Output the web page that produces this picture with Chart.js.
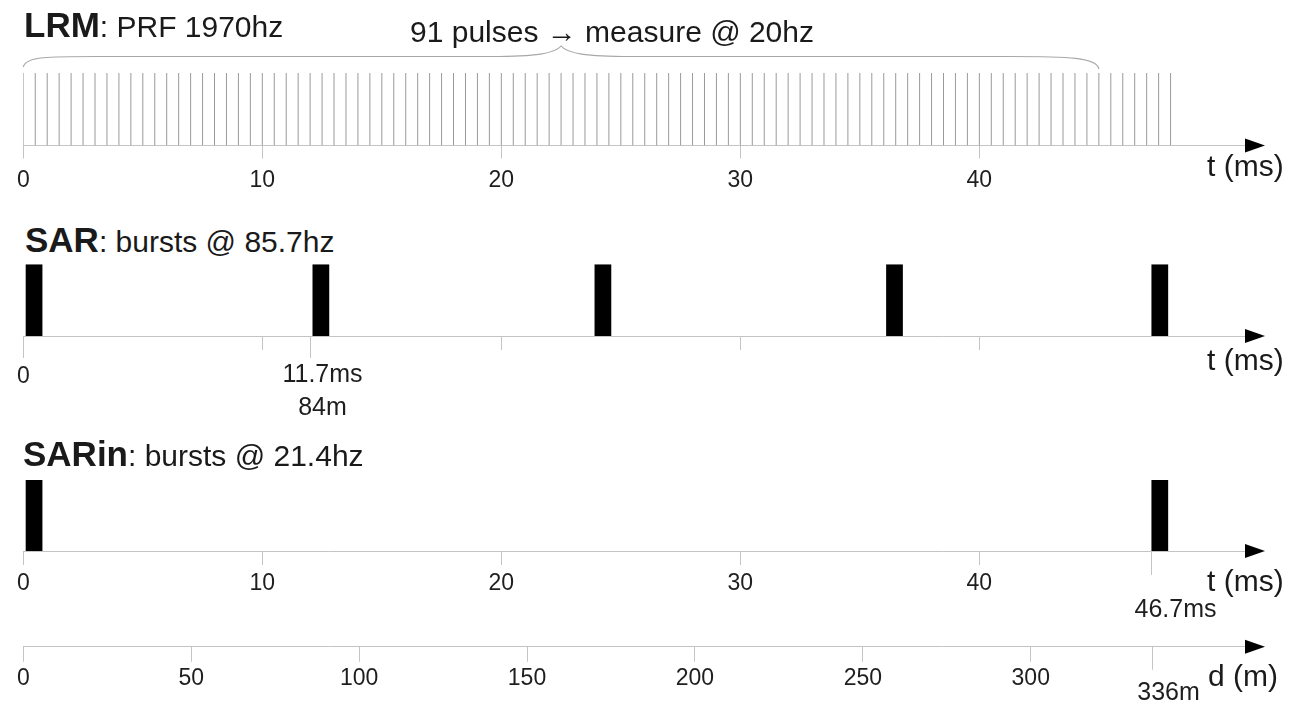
<!DOCTYPE html>
<html>
<head>
<meta charset="utf-8">
<title>CryoSat SIRAL modes</title>
<script src="https://cdn.jsdelivr.net/npm/chart.js@4.4.1/dist/chart.umd.min.js"></script>
<style>
  html, body { margin: 0; padding: 0; background: #fff; }
  body { position: relative; width: 1293px; height: 705px; overflow: hidden;
         font-family: "Liberation Sans", Arial, sans-serif; color: #1a1a1a; }
  canvas { position: absolute; left: 0; }
  .lbl { position: absolute; white-space: nowrap; line-height: 0; font-size: 30px; }
  .lbl b { font-size: 35px; }
</style>
</head>
<body>
<canvas id="lrm" width="1293" height="160" style="top:40px"></canvas>
<canvas id="sar" width="1293" height="170" style="top:260px"></canvas>
<canvas id="sarin" width="1293" height="160" style="top:470px"></canvas>
<canvas id="dist" width="1293" height="73" style="top:632px"></canvas>
<script>
// LRM pulse times (ms), one every ~0.5 ms
const lrmPulseTimes = [
  0, 0.5, 1, 1.5, 2, 2.5, 3, 3.5, 4, 4.5, 5, 5.5, 6, 6.5, 7, 7.5, 8, 8.5, 9, 9.5,
  10, 10.5, 11, 11.5, 12, 12.5, 13, 13.5, 14, 14.5, 15, 15.5, 16, 16.5, 17, 17.5, 18, 18.5, 19, 19.5,
  20, 20.5, 21, 21.5, 22, 22.5, 23, 23.5, 24, 24.5, 25, 25.5, 26, 26.5, 27, 27.5, 28, 28.5, 29, 29.5,
  30, 30.5, 31, 31.5, 32, 32.5, 33, 33.5, 34, 34.5, 35, 35.5, 36, 36.5, 37, 37.5, 38, 38.5, 39, 39.5,
  40, 40.5, 41, 41.5, 42, 42.5, 43, 43.5, 44, 44.5, 45, 45.5, 46, 46.5, 47, 47.5, 48
];
const lrmBraceSpan = [0, 45];          // the 91 pulses averaged into one measurement

// burst start times (ms) and burst length
const sarBurstStarts = [0.1, 12.1, 23.9, 36.1, 47.2];
const sarinBurstStarts = [0.1, 47.2];
const burstLength = 0.7;

// axes
const timeMax = 51.24;
const timeTicks = [0, 10, 20, 30, 40];
const timeTickLabels = ['0', '10', '20', '30', '40'];
const sarTickLabels = ['', '', '', '', ''];
const sarMarks = [0, 12.0];
const sarMarkLabels = [['0'], ['11.7ms', '84m']];
const sarinMarks = [47.2];
const sarinMarkLabels = [['46.7ms']];

const distMax = 364.7;
const distTicks = [0, 50, 100, 150, 200, 250, 300];
const distTickLabels = ['0', '50', '100', '150', '200', '250', '300'];
const distMarks = [336];
const distMarkLabels = [['336m']];

const GRAY = '#c4c4c4';
const FONT = '"Liberation Sans", Arial, sans-serif';

// black arrow head at the right end of the axis line
const arrowPlugin = {
  id: 'axisArrow',
  afterDraw(chart) {
    const ctx = chart.ctx, r = chart.chartArea.right, y = chart.scales.x.top;
    ctx.save();
    ctx.fillStyle = '#000';
    ctx.beginPath();
    ctx.moveTo(r - 3, y - 7);
    ctx.lineTo(r + 17, y);
    ctx.lineTo(r - 3, y + 7);
    ctx.closePath();
    ctx.fill();
    ctx.restore();
  }
};

// longer ticks with annotation text
function marksPlugin(cfg) {
  return {
    id: 'marks',
    afterDraw(chart) {
      const ctx = chart.ctx, sx = chart.scales.x, y0 = sx.top;
      ctx.save();
      cfg.values.forEach((v, i) => {
        const px = Math.round(sx.getPixelForValue(v)) + 0.5;
        ctx.strokeStyle = GRAY;
        ctx.lineWidth = 1;
        ctx.beginPath();
        ctx.moveTo(px, y0);
        ctx.lineTo(px, y0 + cfg.tickLength);
        ctx.stroke();
        ctx.fillStyle = '#1e1e1e';
        ctx.textAlign = 'center';
        ctx.textBaseline = 'alphabetic';
        ctx.font = cfg.fonts[i] + 'px ' + FONT;
        cfg.labels[i].forEach((line, k) => {
          ctx.fillText(line, px + cfg.dx[i], y0 + cfg.baselines[i] + k * cfg.lineGap);
        });
      });
      ctx.restore();
    }
  };
}

// curly brace over a span of the time axis
function bracePlugin(span) {
  return {
    id: 'brace',
    afterDraw(chart) {
      const ctx = chart.ctx, sx = chart.scales.x, top = chart.chartArea.top;
      const x0 = sx.getPixelForValue(span[0]), x1 = sx.getPixelForValue(span[1]);
      const xm = (x0 + x1) / 2;
      const yEnd = top - 6, yH = top - 16.5, yTip = top - 27;
      ctx.save();
      ctx.strokeStyle = '#a8a8a8';
      ctx.lineWidth = 1.2;
      ctx.beginPath();
      ctx.moveTo(x0, yEnd);
      ctx.bezierCurveTo(x0 + 2, yH - 1, x0 + 30, yH, x0 + 90, yH);
      ctx.lineTo(xm - 70, yH);
      ctx.bezierCurveTo(xm - 25, yH, xm - 6, yH - 3, xm, yTip);
      ctx.bezierCurveTo(xm + 6, yH - 3, xm + 25, yH, xm + 70, yH);
      ctx.lineTo(x1 - 90, yH);
      ctx.bezierCurveTo(x1 - 30, yH, x1 - 2, yH + 1, x1, yEnd + 2);
      ctx.stroke();
      ctx.restore();
    }
  };
}

function rowChart(id, row) {
  return new Chart(document.getElementById(id), {
    type: 'bar',
    data: {
      labels: [id],
      datasets: row.datasets
    },
    options: {
      indexAxis: 'y',
      responsive: false,
      animation: false,
      events: [],
      layout: { padding: { left: 23.3, right: 45, top: row.padTop, bottom: 0 } },
      plugins: { legend: { display: false }, tooltip: { enabled: false } },
      scales: {
        y: { display: false },
        x: {
          type: 'linear',
          min: 0,
          max: row.max,
          afterBuildTicks: s => { s.ticks = row.ticks.map(v => ({ value: v })); },
          afterFit: s => { s.height = row.axisHeight; },
          border: { color: GRAY, width: 1 },
          grid: { drawOnChartArea: false, drawTicks: true, tickLength: row.tickLength, tickColor: GRAY },
          ticks: {
            autoSkip: false,
            maxRotation: 0,
            padding: row.tickPadding,
            color: '#1e1e1e',
            font: { family: FONT, size: 23 },
            callback: (v, i) => row.tickLabels[i]
          }
        }
      }
    },
    plugins: [arrowPlugin].concat(row.plugins || [])
  });
}

function burstSet(starts, label) {
  return {
    data: starts.map(t => ({ y: label, x: [t, t + burstLength] })),
    backgroundColor: '#000',
    borderWidth: 0,
    categoryPercentage: 1,
    barPercentage: 1,
    inflateAmount: 0
  };
}

rowChart('lrm', {
  max: timeMax, padTop: 33, axisHeight: 54.5, tickLength: 13, tickPadding: 8.5,
  ticks: timeTicks, tickLabels: timeTickLabels,
  datasets: [{
    data: lrmPulseTimes.map(t => ({ y: 'lrm', x: [t - 0.021, t + 0.021] })),
    backgroundColor: '#9a9a9a',
    borderWidth: 0,
    categoryPercentage: 1,
    barPercentage: 1,
    inflateAmount: 0
  }],
  plugins: [bracePlugin(lrmBraceSpan)]
});

rowChart('sar', {
  max: timeMax, padTop: 4.3, axisHeight: 94, tickLength: 14, tickPadding: 4,
  ticks: timeTicks, tickLabels: sarTickLabels,
  datasets: [burstSet(sarBurstStarts, 'sar')],
  plugins: [marksPlugin({
    values: sarMarks, labels: sarMarkLabels, fonts: [23, 25],
    dx: [0, 12], baselines: [47, 46], lineGap: 33, tickLength: 22
  })]
});

rowChart('sarin', {
  max: timeMax, padTop: 10, axisHeight: 79, tickLength: 14, tickPadding: 5,
  ticks: timeTicks, tickLabels: timeTickLabels,
  datasets: [burstSet(sarinBurstStarts, 'sarin')],
  plugins: [marksPlugin({
    values: sarinMarks, labels: sarinMarkLabels, fonts: [25],
    dx: [24], baselines: [65.7], lineGap: 33, tickLength: 24
  })]
});

rowChart('dist', {
  max: distMax, padTop: 0, axisHeight: 58.3, tickLength: 15, tickPadding: 3.5,
  ticks: distTicks, tickLabels: distTickLabels,
  datasets: [],
  plugins: [marksPlugin({
    values: distMarks, labels: distMarkLabels, fonts: [25],
    dx: [16], baselines: [53.3], lineGap: 33, tickLength: 23
  })]
});

// titles and axis names as page text, placed by baseline
const texts = [
  { html: '<b>LRM</b>: PRF 1970hz', x: 24, base: 36.7, size: 35 },
  { html: '91 pulses \u2192 measure @ 20hz', x: 410, base: 42.7, size: 30 },
  { html: 't (ms)', x: 1207, base: 176.5, size: 30 },
  { html: '<b>SAR</b>: bursts @ 85.7hz', x: 25, base: 251.7, size: 35 },
  { html: 't (ms)', x: 1207, base: 370, size: 30 },
  { html: '<b>SARin</b>: bursts @ 21.4hz', x: 23, base: 466, size: 35 },
  { html: 't (ms)', x: 1207, base: 591, size: 30 },
  { html: 'd (m)', x: 1208, base: 686.5, size: 30 }
];
texts.forEach(t => {
  const d = document.createElement('div');
  d.className = 'lbl';
  d.innerHTML = t.html;
  d.style.left = t.x + 'px';
  d.style.top = (t.base - 0.3465 * t.size) + 'px';
  document.body.appendChild(d);
});
</script>
</body>
</html>
